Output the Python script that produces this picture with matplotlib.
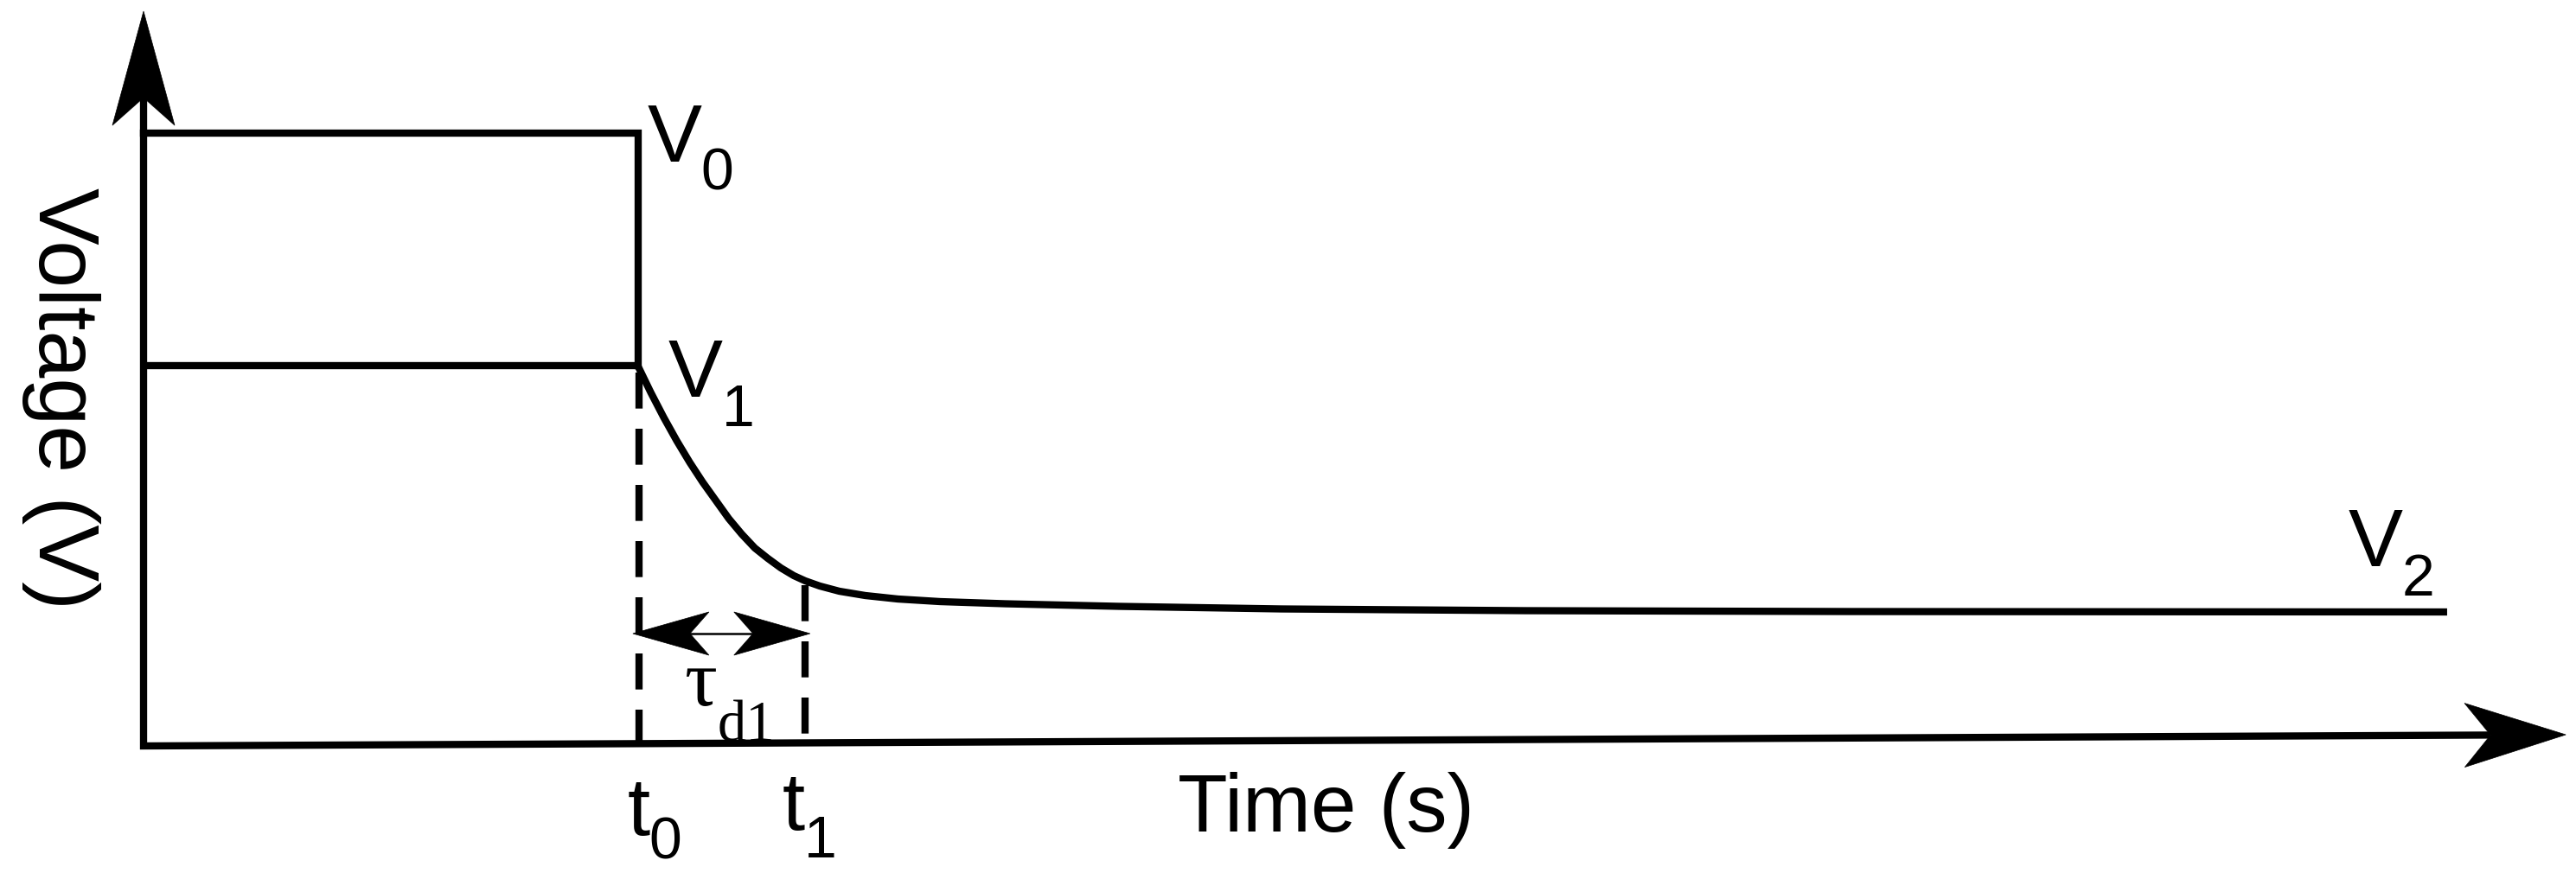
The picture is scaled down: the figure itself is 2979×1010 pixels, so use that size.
import matplotlib
matplotlib.use("Agg")
import matplotlib.pyplot as plt
from matplotlib.patches import Polygon
import numpy as np

# ---------------- data (arbitrary schematic units) ----------------
V0 = 7.09          # initial level
V1 = 4.40          # level after the drop
V2 = 1.55          # final level
t0 = 3.04          # drop time
t1 = 4.07          # end of first decay (t0 + tau_d1)

step_time = [0.0, t0, t0]
step_volt = [V0, V0, V1]

curve_time = [0.00, 3.04, 3.12, 3.20, 3.28, 3.36, 3.44, 3.52, 3.60, 3.68,
              3.76, 3.84, 3.92, 4.00, 4.07, 4.16, 4.28, 4.44, 4.64, 4.90,
              5.30, 6.00, 7.00, 8.50, 10.50, 14.17]
curve_volt = [4.40, 4.40, 4.09, 3.80, 3.53, 3.28, 3.05, 2.84, 2.63, 2.45,
              2.29, 2.17, 2.06, 1.97, 1.91, 1.85, 1.79, 1.74, 1.70, 1.67,
              1.645, 1.615, 1.585, 1.565, 1.555, 1.55]

x_label = "Time (s)"
y_label = "Voltage (V)"

# axis extents
x_tip = (14.90, 0.13)
y_tip = (0.0, 8.50)
tau_y = 1.30

# ---------------- figure ----------------
W, H, DPI = 2979, 1010, 100
fig = plt.figure(figsize=(W / DPI, H / DPI), dpi=DPI)
fig.patch.set_facecolor("white")
ax = fig.add_axes([0, 0, 1, 1])
ax.set_xlim(-166 / 188, (W - 166) / 188)
ax.set_ylim((863 - H) / 100, 863 / 100)
ax.axis("off")

LW = 6.0
fig.canvas.draw()


def arrowhead(tip, direction, length, half, notch, color="black"):
    """Notched arrowhead: sizes in pixels, tip in data coords."""
    tx, ty = ax.transData.transform(tip)
    d = np.array(direction, float)
    d /= np.linalg.norm(d)
    n = np.array([-d[1], d[0]])
    tipv = np.array([tx, ty])
    base = tipv - d * length
    pts = [tipv, base + n * half, tipv - d * notch, base - n * half]
    ax.add_patch(Polygon(pts, closed=True, transform=None, facecolor=color,
                         edgecolor=color, lw=0.5, zorder=5))
    return ax.transData.inverted().transform(tipv - d * notch)


# axes (arrows)
dx = np.array(ax.transData.transform(x_tip)) - np.array(ax.transData.transform((0, 0)))
xn = arrowhead(x_tip, dx, 117, 37, 87)
yn = arrowhead(y_tip, (0, 1), 132, 36, 100)
ax.plot([0, 0, xn[0]], [yn[1], 0, xn[1]], color="black", lw=LW,
        solid_joinstyle="miter", solid_capstyle="butt")

# signal
ax.plot(step_time, step_volt, color="black", lw=LW, solid_joinstyle="miter")
ax.plot(curve_time, curve_volt, color="black", lw=LW, solid_joinstyle="round",
        solid_capstyle="butt")

# dashed guides
dash = (0, (5.0, 2.8))
ax.plot([t0 + 0.01, t0 + 0.01], [V1 - 0.08, 0], color="black", lw=LW, ls=dash)
ax.plot([t1, t1], [1.86, 0], color="black", lw=LW, ls=dash)

# tau double arrow
ln = arrowhead((t0 - 0.03, tau_y), (-1, 0), 88, 25, 66)
rn = arrowhead((t1 + 0.03, tau_y), (1, 0), 88, 25, 66)
ax.plot([ln[0], rn[0]], [tau_y, tau_y], color="black", lw=1.8)

# ---------------- text ----------------
SANS = ["Liberation Sans", "DejaVu Sans"]
SERIF = ["Liberation Serif", "DejaVu Serif"]
BIG, SUB = 68, 49


def ptxt(x, y_top, s, size, family=SANS, **kw):
    fig.text(x / W, 1 - y_top / H, s, fontsize=size, family=family,
             ha=kw.pop("ha", "left"), va=kw.pop("va", "baseline"), **kw)


ptxt(749, 187, "V", BIG)
ptxt(810, 220, "0", SUB)
ptxt(773, 459, "V", BIG)
ptxt(835, 493, "1", SUB)
ptxt(2716, 655, "V", BIG)
ptxt(2778, 689, "2", SUB)

ptxt(726, 966, "t", BIG)
ptxt(750, 994, "0", SUB)
ptxt(905, 960, "t", BIG)
ptxt(930, 992, "1", SUB)

ptxt(792, 816, "τ", 68, family=SERIF)
ptxt(830, 858, "d1", 48, family=SERIF)

ptxt(1362, 962, x_label, BIG)
ptxt(70, 461, y_label, 71, ha="center", va="center", rotation=270)

fig.savefig("out.png", dpi=DPI, facecolor="white")
